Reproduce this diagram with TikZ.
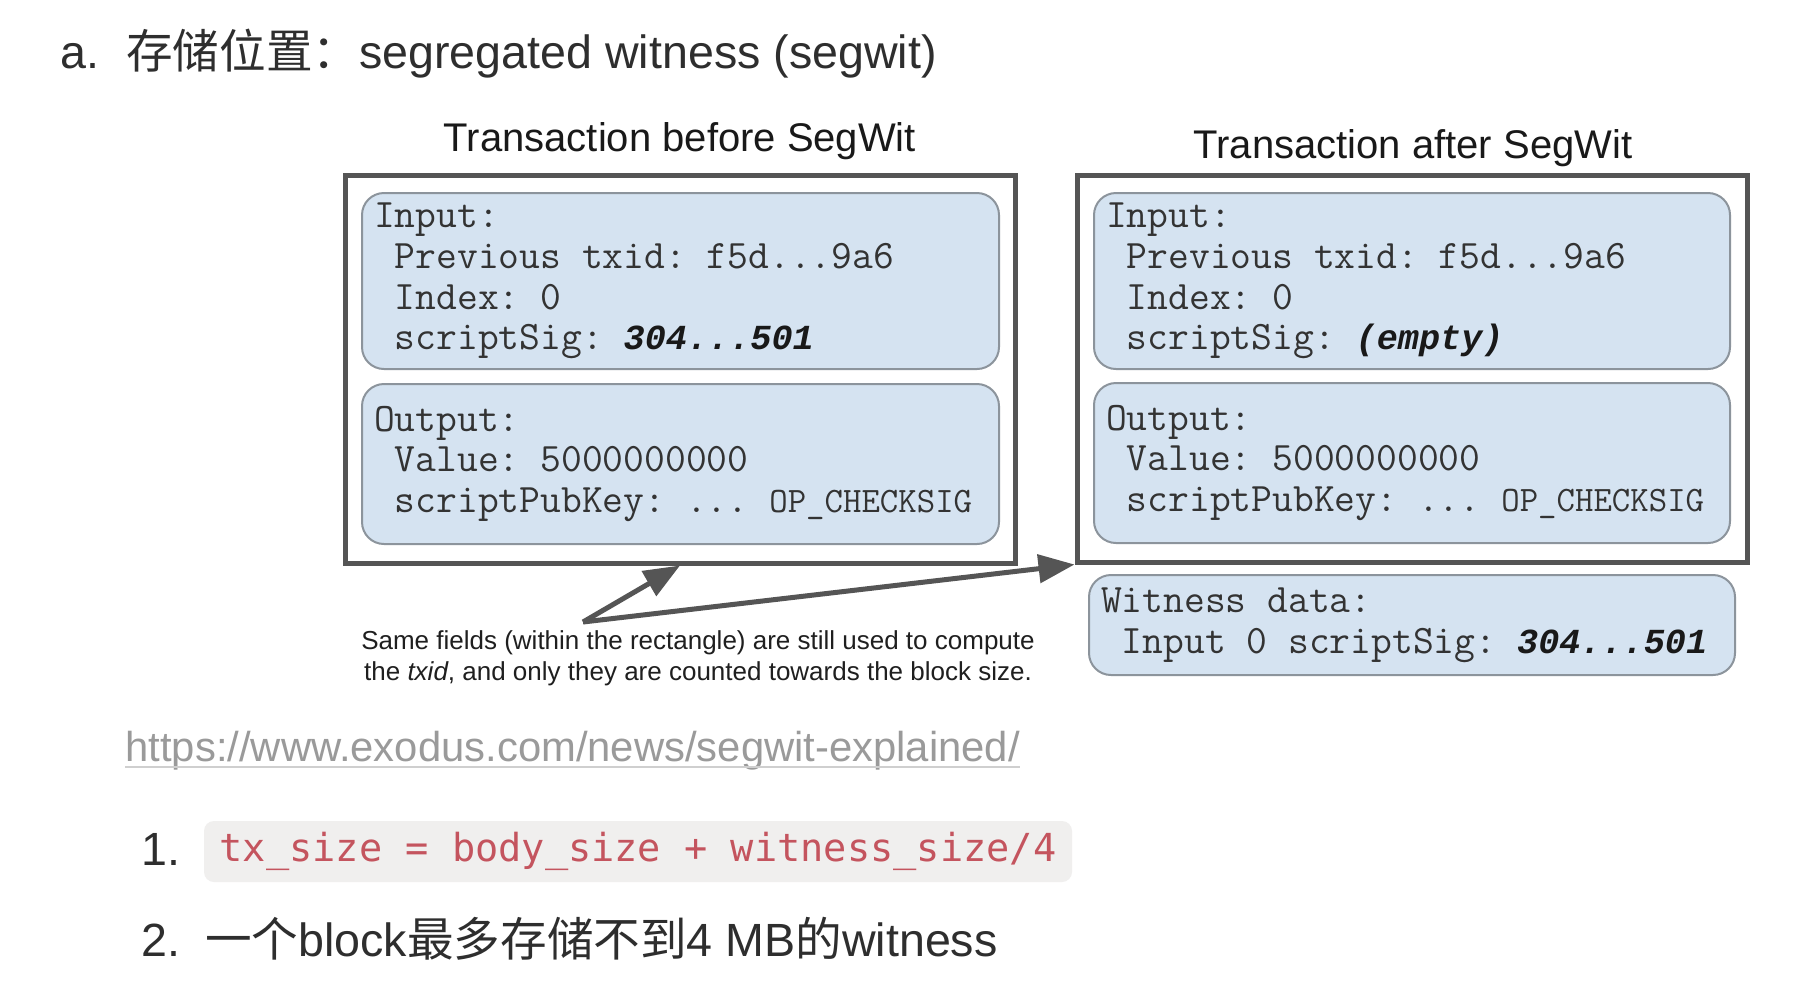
\documentclass[tikz,border=0pt]{standalone}
\usepackage{fontspec}
\setmainfont{Liberation Sans}
\newfontfamily\cjk{Noto Sans CJK SC}
\newfontfamily\codefont{DejaVu Sans Mono}
\newfontfamily\sigfont{Liberation Mono}
\usetikzlibrary{arrows.meta}
\definecolor{fieldfill}{HTML}{D5E3F1}
\definecolor{fieldline}{HTML}{8C949C}
\definecolor{fieldtext}{HTML}{333333}
\definecolor{outergray}{HTML}{555555}
\definecolor{urlgray}{HTML}{9A9A9A}
\definecolor{urlline}{HTML}{CFCFCF}
\definecolor{codebg}{HTML}{F0EFEE}
\definecolor{codered}{HTML}{C4545E}
\definecolor{bodytext}{HTML}{2E2E2E}
\newcommand{\sigtext}[1]{{\sigfont\fontsize{17.6}{20.35}\selectfont\color{black!90}\bfseries\itshape #1}}
\newcommand{\opcode}{{\fontsize{17.9}{20.35}\selectfont OP\_CHECKSIG}}

\begin{document}
\begin{tikzpicture}[x=0.5pt,y=-0.5pt,>=Stealth,
  txbox/.style={rectangle,draw=outergray,line width=2.5pt,minimum width=335pt,inner sep=0pt},
  fieldbox/.style={rectangle,rounded corners=11pt,fill=fieldfill,draw=fieldline,line width=1pt,inner xsep=6pt,inner ysep=0pt,align=flush left,text=fieldtext,font=\fontsize{20.2}{20.35}\selectfont\ttfamily\frenchspacing},
  heading/.style={anchor=base,inner sep=0pt,text=black!90,font=\fontsize{20}{24}\selectfont},
  bodyline/.style={anchor=base west,inner sep=0pt,text=bodytext,font=\fontsize{23.3}{28}\selectfont},
  pointer/.style={draw=outergray,line width=2.5pt,-{Triangle[length=18pt,width=14pt]}}]
\fill[white] (0,0) rectangle (1808,992);
\useasboundingbox (0,0) rectangle (1808,992);
% title line
\node[bodyline] (title) at (60,68) {a.\hspace{13.5pt}{\cjk 存储位置：}segregated witness (segwit)};
% transaction before segwit
\node[heading] (beforehead) at (680,151) {Transaction before SegWit};
\node[txbox,minimum height=194pt] (before) at (680,369) {};
\node[fieldbox,text width=306.5pt,minimum height=88pt] (beforein) at (680.5,281) {Input:\\
~Previous txid: f5d...9a6\\
~Index: 0\\
~scriptSig: \sigtext{304...501}};
\node[fieldbox,text width=306.5pt,minimum height=80pt] (beforeout) at (680.5,464) {Output:\\
~Value: 5000000000\\
~scriptPubKey: ... \opcode};
% transaction after segwit
\node[heading] (afterhead) at (1413,158) {Transaction after SegWit};
\node[txbox,minimum height=193.5pt] (after) at (1412,368.5) {};
\node[fieldbox,text width=306pt,minimum height=88pt] (afterin) at (1412,281) {Input:\\
~Previous txid: f5d...9a6\\
~Index: 0\\
~scriptSig: \sigtext{(empty)}};
\node[fieldbox,text width=306pt,minimum height=80pt] (afterout) at (1412,463) {Output:\\
~Value: 5000000000\\
~scriptPubKey: ... \opcode};
\node[fieldbox,text width=311pt,minimum height=50pt] (witness) at (1412,625) {Witness data:\\
~Input 0 scriptSig: \sigtext{304...501}};
% note and its pointers
\node[anchor=north,inner sep=0pt,align=center,text=black!88,font=\fontsize{13}{15.5}\selectfont] (note) at (698,630) {Same fields (within the rectangle) are still used to compute\\
the \textit{txid}, and only they are counted towards the block size.};
\coordinate (notetip) at (583,622);
\draw[pointer] (notetip) -- (before.south);
\draw[pointer] (notetip) -- (after.south west);
% link
\node[anchor=base west,inner sep=0pt,text=urlgray,font=\fontsize{20.9}{25}\selectfont] (url) at (125,761) {https://www.exodus.com/news/segwit-explained/};
\draw[urlline,line width=1pt] ([yshift=-3pt]url.base west) -- ([yshift=-3pt]url.base east);
% list
\node[bodyline] (first) at (141,865) {1.};
\node[rectangle,rounded corners=5pt,fill=codebg,minimum width=434pt,minimum height=30.5pt,inner sep=0pt,text=codered,font=\fontsize{19.3}{23}\codefont] (formula) at (638,851.5) {tx\_size = body\_size + witness\_size/4};
\node[bodyline] (second) at (141,956) {2.\hspace{12.5pt}{\cjk 一个}block{\cjk 最多存储不到}4 MB{\cjk 的}witness};
\end{tikzpicture}
\end{document}
